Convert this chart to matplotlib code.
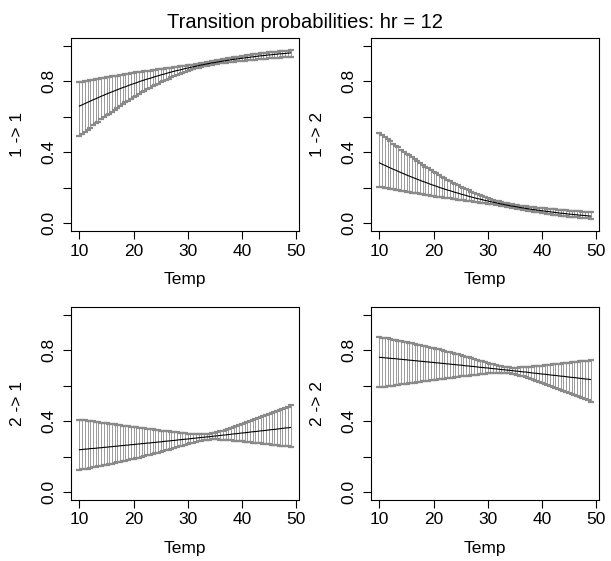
import numpy as np
import matplotlib
matplotlib.use("Agg")
import matplotlib.pyplot as plt

# Temperature grid (x values of the bars)
temp = [10, 10.5, 11, 11.5, 12, 12.5, 13, 13.5, 14, 14.5, 15, 15.5, 16, 16.5, 17, 17.5,
        18, 18.5, 19, 19.5, 20, 20.5, 21, 21.5, 22, 22.5, 23, 23.5, 24, 24.5, 25, 25.5,
        26, 26.5, 27, 27.5, 28, 28.5, 29, 29.5, 30, 30.5, 31, 31.5, 32, 32.5, 33, 33.5,
        34, 34.5, 35, 35.5, 36, 36.5, 37, 37.5, 38, 38.5, 39, 39.5, 40, 40.5, 41, 41.5,
        42, 42.5, 43, 43.5, 44, 44.5, 45, 45.5, 46, 46.5, 47, 47.5, 48, 48.5, 49]

# Probabilities in thousandths (mean, lower, upper) for each transition
p11 = [660,667,674,681,688,695,701,708,715,721,728,734,740,746,752,758,764,769,775,781,786,791,797,802,807,812,816,821,826,830,835,839,843,848,852,856,860,863,867,871,874,878,881,884,888,891,894,897,900,903,905,908,911,913,916,918,921,923,925,927,929,931,933,935,937,939,941,943,944,946,948,949,951,952,954,955,956,958,959]
p11_lo = [493,505,516,528,539,551,562,573,585,596,607,618,629,639,650,660,670,681,690,700,710,719,728,737,746,754,763,771,779,787,794,801,809,815,822,828,835,841,846,852,857,862,867,872,876,880,884,887,890,893,896,898,900,902,904,906,908,910,911,913,914,916,917,919,920,922,923,924,925,927,928,929,930,931,933,934,935,936,937]
p11_hi = [795,797,800,803,806,809,811,814,817,819,822,825,827,830,832,835,837,839,842,844,847,849,851,853,856,858,860,862,864,867,869,871,873,875,877,879,881,883,885,887,889,892,894,896,898,901,903,906,908,911,914,917,920,923,926,929,931,934,937,939,942,944,947,949,951,953,955,957,959,960,962,964,965,967,968,970,971,972,973]

p12 = [340,333,326,319,312,305,299,292,285,279,272,266,260,254,248,242,236,231,225,219,214,209,203,198,193,188,184,179,174,170,165,161,157,152,148,144,140,137,133,129,126,122,119,116,112,109,106,103,100,97,95,92,89,87,84,82,79,77,75,73,71,69,67,65,63,61,59,57,56,54,52,51,49,48,46,45,44,42,41]
p12_lo = [205,203,200,197,194,191,189,186,183,181,178,175,173,170,168,165,163,161,158,156,153,151,149,147,144,142,140,138,136,133,131,129,127,125,123,121,119,117,115,113,111,108,106,104,102,99,97,94,92,89,86,83,80,77,74,71,69,66,63,61,58,56,53,51,49,47,45,43,41,40,38,36,35,33,32,30,29,28,27]
p12_hi = [507,495,484,472,461,449,438,427,415,404,393,382,371,361,350,340,330,319,310,300,290,281,272,263,254,246,237,229,221,213,206,199,191,185,178,172,165,159,154,148,143,138,133,128,124,120,116,113,110,107,104,102,100,98,96,94,92,90,89,87,86,84,83,81,80,78,77,76,75,73,72,71,70,69,67,66,65,64,63]

p21 = [240,241,243,244,246,247,248,250,251,253,254,256,257,259,260,262,263,265,266,268,269,271,272,274,275,277,278,280,281,283,284,286,288,289,291,292,294,296,297,299,300,302,304,305,307,309,310,312,313,315,317,318,320,322,323,325,327,329,330,332,334,335,337,339,341,342,344,346,347,349,351,353,354,356,358,360,362,363,365]
p21_lo = [126,129,131,134,137,140,143,146,149,152,155,158,161,165,168,171,175,178,182,185,189,193,196,200,204,208,212,216,220,224,228,232,237,241,245,249,254,258,263,267,271,275,280,284,287,291,294,296,297,298,298,298,297,296,295,294,293,291,290,288,287,285,283,282,280,278,277,275,273,272,270,268,267,265,263,262,260,258,257]
p21_hi = [409,407,405,403,401,399,396,394,392,390,388,386,384,382,380,378,376,374,372,370,368,366,364,362,360,358,356,354,352,350,348,347,345,343,341,339,338,336,334,333,331,330,329,328,327,327,327,328,330,333,336,340,344,348,353,358,363,368,374,379,384,390,396,401,407,413,418,424,430,436,442,447,453,459,465,471,477,483,489]

p22 = [760,759,757,756,754,753,752,750,749,747,746,744,743,741,740,738,737,735,734,732,731,729,728,726,725,723,722,720,719,717,716,714,712,711,709,708,706,704,703,701,700,698,696,695,693,691,690,688,687,685,683,682,680,678,677,675,673,671,670,668,666,665,663,661,659,658,656,654,653,651,649,647,646,644,642,640,638,637,635]
p22_lo = [591,593,595,597,599,601,604,606,608,610,612,614,616,618,620,622,624,626,628,630,632,634,636,638,640,642,644,646,648,650,652,653,655,657,659,661,662,664,666,667,669,670,671,672,673,673,673,672,670,667,664,660,656,652,647,642,637,632,626,621,616,610,604,599,593,587,582,576,570,564,558,553,547,541,535,529,523,517,511]
p22_hi = [874,871,869,866,863,860,857,854,851,848,845,842,839,835,832,829,825,822,818,815,811,807,804,800,796,792,788,784,780,776,772,768,763,759,755,751,746,742,737,733,729,725,720,716,713,709,706,704,703,702,702,702,703,704,705,706,707,709,710,712,713,715,717,718,720,722,723,725,727,728,730,732,733,735,737,738,740,742,743]

panel_labels = ['1 -> 1', '1 -> 2', '2 -> 1', '2 -> 2']
x_ticks = [10, 20, 30, 40, 50]
y_ticks = [0, 0.2, 0.4, 0.6, 0.8, 1.0]
y_ticklabels = ['0.0', '', '0.4', '', '0.8', '']
title = 'Transition probabilities: hr = 12'

series = [(p11, p11_lo, p11_hi), (p12, p12_lo, p12_hi),
          (p21, p21_lo, p21_hi), (p22, p22_lo, p22_hi)]

plt.rcParams['font.family'] = ['Liberation Sans', 'DejaVu Sans']
W, H = 611, 561
fig = plt.figure(figsize=(W/100, H/100), dpi=100)
# panel box positions in pixels (left, top)
boxes = [(71, 38), (371, 38), (71, 307), (371, 307)]
bw, bh = 228, 193
x = np.array(temp, dtype=float)
for (x0, y0), (m, lo, hi), lab in zip(boxes, series, panel_labels):
    ax = fig.add_axes([x0/W, 1-(y0+bh)/H, bw/W, bh/H])
    m = np.array(m)/1000.0; lo = np.array(lo)/1000.0; hi = np.array(hi)/1000.0
    ax.errorbar(x, m, yerr=[m-lo, hi-m], fmt='none', ecolor='#8a8a8a',
                elinewidth=0.6, capsize=2.2, capthick=1.6)
    ax.plot(x, m, color='black', lw=0.8)
    ax.set_xlim(8.44, 50.56); ax.set_ylim(-0.0432, 1.0432)
    ax.set_xticks(x_ticks); ax.set_yticks(y_ticks)
    ax.set_yticklabels(y_ticklabels)
    ax.tick_params(length=5.5, width=0.8, labelsize=12.5, pad=3.5)
    ax.tick_params(axis='y', labelrotation=90, pad=5)
    for lb in ax.get_yticklabels():
        lb.set_va('center')
    ax.set_xlabel('Temp', fontsize=12.5)
    ax.xaxis.set_label_coords(0.5, -0.249); ax.xaxis.label.set_va('center')
    ax.set_ylabel(lab, fontsize=12.5)
    ax.yaxis.set_label_coords(-0.233, 0.5); ax.yaxis.label.set_va('center')
    for s in ax.spines.values():
        s.set_linewidth(0.8)
fig.text(305/W, 1-22/H, title, ha='center', va='center', fontsize=14.5)
fig.savefig('out.png', dpi=100)
